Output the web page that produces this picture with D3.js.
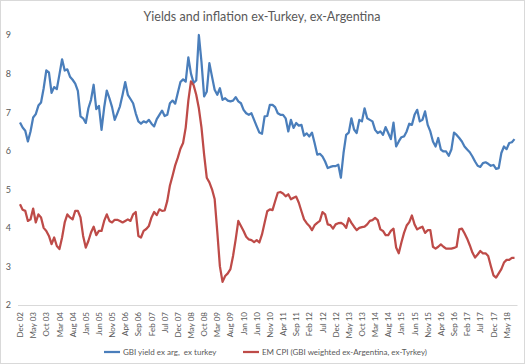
<!DOCTYPE html>
<html lang="en">
    <head>
        <meta charset="utf-8">
        <title>Yields and inflation ex-Turkey, ex-Argentina</title>
        <script type="text/javascript" src="https://d3js.org/d3.v7.min.js"></script>
        <style type="text/css">
            body { margin: 0; background: #fff; }
            text { font-family: Lato, "Open Sans", sans-serif; fill: #595959; }
        </style>
    </head>
    <body>
        <script type="text/javascript">

        //Data - monthly, Dec 2002 to Aug 2018
        const tickLabels = ["Dec 02","May 03","Oct 03","Mar 04","Aug 04","Jan 05","Jun 05","Nov 05","Apr 06","Sep 06",
                            "Feb 07","Jul 07","Dec 07","May 08","Oct 08","Mar 09","Aug 09","Jan 10","Jun 10","Nov 10",
                            "Apr 11","Sep 11","Feb 12","Jul 12","Dec 12","May 13","Oct 13","Mar 14","Aug 14","Jan 15",
                            "Jun 15","Nov 15","Apr 16","Sep 16","Feb 17","Jul 17","Dec 17","May 18"];

        const gbiYield = [6.73,6.6,6.52,6.24,6.5,6.86,6.95,7.17,7.25,7.62,
                          8.08,8.03,7.5,7.65,7.6,7.98,8.37,8.08,8.11,7.92,
                          7.84,7.74,7.55,6.89,6.84,6.72,7.1,7.32,7.71,7.08,
                          7.16,6.54,7.12,7.56,7.36,7.13,6.8,6.97,7.15,7.45,
                          7.78,7.45,7.34,7.23,6.97,6.76,6.7,6.76,6.73,6.8,
                          6.7,6.63,6.82,6.93,7.04,6.9,6.93,7.23,7.3,7.22,
                          7.5,7.78,7.85,7.79,8.42,8.0,7.76,7.82,9.0,8.3,
                          7.41,7.53,8.27,7.92,7.58,7.45,7.62,7.32,7.36,7.3,
                          7.28,7.3,7.39,7.28,7.23,7.06,6.97,6.93,6.97,6.8,
                          6.63,6.47,6.44,6.89,6.9,7.19,7.19,7.13,6.97,6.93,
                          6.93,6.84,6.5,6.8,6.59,6.72,6.65,6.67,6.39,6.45,
                          6.37,6.47,6.2,5.9,5.92,5.85,5.72,5.55,5.58,5.6,
                          5.6,5.64,5.3,5.94,6.41,6.47,6.84,6.55,6.46,6.8,
                          6.76,7.1,6.84,6.8,6.76,6.54,6.46,6.5,6.41,6.61,
                          6.46,6.3,6.73,6.11,6.24,6.35,6.37,6.5,6.7,6.67,
                          6.93,7.06,6.76,6.8,7.02,6.67,6.5,6.24,6.11,6.33,
                          6.03,5.98,5.98,5.87,6.03,6.47,6.41,6.33,6.24,6.11,
                          6.03,5.96,5.85,5.72,5.61,5.58,5.68,5.7,5.66,5.61,
                          5.63,5.53,5.55,5.94,6.11,6.04,6.2,6.22,6.3];

        const emCpi = [4.61,4.47,4.44,4.18,4.22,4.5,4.14,4.35,4.27,4.0,
                       3.92,3.79,3.58,3.75,3.53,3.45,3.75,4.14,4.35,4.27,
                       4.22,4.44,4.44,4.27,3.79,3.49,3.66,3.88,4.03,3.81,
                       3.92,3.92,4.18,4.35,4.18,4.14,4.21,4.21,4.18,4.14,
                       4.18,4.22,4.18,4.35,4.41,3.79,3.75,3.92,3.97,4.05,
                       4.27,4.41,4.33,4.48,4.44,4.45,4.7,5.1,5.35,5.62,
                       5.82,6.05,6.2,6.6,7.3,7.8,7.7,7.45,7.1,6.6,
                       5.9,5.3,5.18,5.0,4.75,3.9,3.0,2.6,2.75,2.82,
                       2.93,3.27,3.7,4.18,4.05,3.92,3.77,3.7,3.68,3.63,
                       3.68,3.62,3.83,4.13,4.43,4.48,4.46,4.69,4.91,4.93,
                       4.89,4.82,4.87,4.74,4.78,4.81,4.65,4.43,4.22,4.12,
                       4.05,3.94,4.07,4.13,4.18,4.41,4.35,4.09,4.07,3.98,
                       4.09,4.12,4.13,4.09,4.0,4.25,4.13,4.03,3.94,4.0,
                       4.02,4.03,4.09,4.18,4.2,4.26,4.2,3.96,3.92,3.81,
                       3.81,3.92,3.98,3.49,3.34,3.62,3.87,4.06,4.15,4.32,
                       4.09,3.96,4.0,4.03,3.87,3.94,3.94,3.51,3.46,3.51,
                       3.57,3.51,3.46,3.46,3.46,3.48,3.51,3.96,3.98,3.86,
                       3.72,3.55,3.36,3.23,3.31,3.4,3.34,3.34,3.27,3.01,
                       2.77,2.71,2.82,2.93,3.1,3.17,3.17,3.22,3.22];

        const seriesNames = ["GBI yield ex arg,  ex turkey", "EM CPI (GBI weighted ex-Argentina, ex-Tyrkey)"];
        const colors = ["#4a7ebb", "#be4b48"];

        //Layout
        const width = 525;
        const height = 364;
        const plotLeft = 20;
        const plotRight = 514.5;
        const plotTop = 35;
        const plotBottom = 305;

        const xScale = d3.scaleLinear()
                         .domain([0, gbiYield.length - 1])
                         .range([plotLeft, plotRight]);

        const yScale = d3.scaleLinear()
                         .domain([2, 9])
                         .range([plotBottom, plotTop]);

        const svg = d3.select("body")
                      .append("svg")
                      .attr("width", width)
                      .attr("height", height);

        //chart border
        svg.append("rect")
           .attr("x", 0.5).attr("y", 0.5)
           .attr("width", width - 1).attr("height", height - 1)
           .attr("fill", "none")
           .attr("stroke", "#d9d9d9");

        //Title
        svg.append("text")
           .attr("x", 262)
           .attr("y", 21)
           .attr("text-anchor", "middle")
           .style("font-size", "12.5px")
           .text("Yields and inflation ex-Turkey, ex-Argentina");

        //Y axis (labels only)
        const leftAxis = d3.axisLeft(yScale)
                           .tickValues(d3.range(2, 10))
                           .tickFormat(d3.format("d"))
                           .tickSize(0)
                           .tickPadding(0);

        const yG = svg.append("g")
                      .attr("transform", "translate(11,0)")
                      .call(leftAxis);
        yG.select(".domain").remove();
        yG.selectAll("text")
          .style("font-size", "9px")
          .style("font-family", "Lato, sans-serif")
          .attr("fill", "#595959");

        //X axis
        const tickIdx = tickLabels.map((d, i) => i * 5);
        const bottomAxis = d3.axisBottom(xScale)
                             .tickValues(tickIdx)
                             .tickFormat((d, i) => tickLabels[i])
                             .tickSize(0)
                             .tickPadding(0);

        const xG = svg.append("g")
                      .attr("transform", "translate(0," + plotBottom + ")")
                      .call(bottomAxis);
        xG.select(".domain")
          .attr("d", "M" + (plotLeft - 2) + ",0.5H" + (plotRight + 3))
          .attr("stroke", "#d9d9d9");
        xG.selectAll("text")
          .attr("transform", "rotate(-90)")
          .attr("x", -7)
          .attr("y", 0)
          .attr("dy", "0.32em")
          .attr("text-anchor", "end")
          .style("font-size", "8px")
          .style("font-family", "Lato, sans-serif")
          .attr("fill", "#595959");

        //Lines
        const line = d3.line()
                       .x((d, i) => xScale(i))
                       .y(d => yScale(d));

        [gbiYield, emCpi].forEach((s, k) => {
            svg.append("path")
               .datum(s)
               .attr("d", line)
               .attr("fill", "none")
               .attr("stroke", colors[k])
               .attr("stroke-width", 2.25)
               .attr("stroke-linejoin", "round");
        });

        //Legend
        const legendX = [104, 243];
        seriesNames.forEach((name, k) => {
            const g = svg.append("g")
                         .attr("transform", "translate(" + legendX[k] + ",352)");
            g.append("line")
             .attr("x1", 0).attr("x2", 16)
             .attr("stroke", colors[k])
             .attr("stroke-width", 2.25);
            g.append("text")
             .attr("x", 19)
             .attr("dy", "0.32em")
             .style("font-size", "8px")
             .style("white-space", "pre")
             .text(name);
        });

        </script>
    </body>
</html>
